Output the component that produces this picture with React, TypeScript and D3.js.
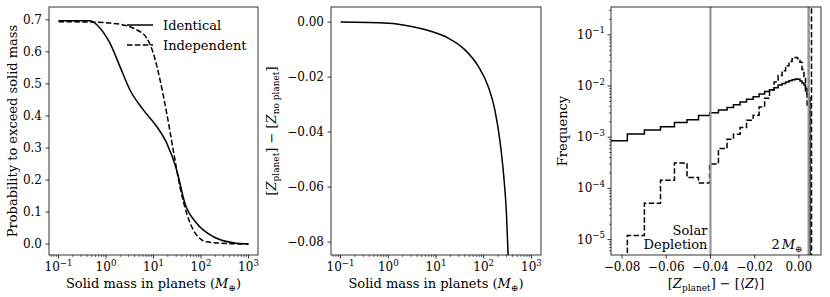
import React from 'react'
import * as d3 from 'd3'

// left panel: probability to exceed a given solid mass
const massIdentical = [0.1, 0.46, 0.75, 1.21, 1.97, 3.2, 6.1, 11.7, 19, 30.8, 46, 81, 182, 478, 1000]
const probIdentical = [0.697, 0.697, 0.674, 0.627, 0.554, 0.481, 0.419, 0.367, 0.315, 0.231, 0.127, 0.065, 0.023, 0.004, 0.0]
const massIndependent = [0.1, 0.46, 1.21, 2.3, 4.4, 7.2, 9.9, 13.7, 19, 26, 36, 50, 69, 132, 478, 1000]
const probIndependent = [0.694, 0.693, 0.69, 0.684, 0.669, 0.643, 0.596, 0.513, 0.408, 0.294, 0.179, 0.096, 0.044, 0.007, 0.001, 0.0]

// middle panel: metallicity shift vs accreted mass
const massShift = [0.1, 1, 3.07, 8.05, 18, 40, 76.5, 124, 171, 217, 263, 299, 324, 335]
const metalShift = [0, -0.0004, -0.0016, -0.0034, -0.0058, -0.01, -0.016, -0.0234, -0.0319, -0.0428, -0.0561, -0.0695, -0.0846, -0.09]

// right panel: histograms
const binEdges = [
  -0.0865, -0.0776, -0.0699, -0.0626, -0.0563, -0.0506, -0.0454, -0.0404, -0.0364, -0.0325, -0.0296,
  -0.0266, -0.0237, -0.0207, -0.018, -0.0155, -0.0133, -0.0112, -0.0094, -0.0076, -0.006, -0.0045,
  -0.0031, -0.0017, -0.0006, 0.0005, 0.0014, 0.0023, 0.003, 0.0037, 0.0044, 0.005, 0.0057,
]
const freqIdentical = [
  8.5e-4, 1.15e-3, 1.38e-3, 1.6e-3, 1.93e-3, 2.2e-3, 2.65e-3, 3.0e-3, 3.4e-3, 3.8e-3, 4.3e-3, 4.9e-3,
  5.5e-3, 6.2e-3, 7.0e-3, 7.8e-3, 8.5e-3, 9.3e-3, 1.05e-2, 1.12e-2, 1.2e-2, 1.27e-2, 1.32e-2, 1.37e-2,
  1.35e-2, 1.25e-2, 1.15e-2, 1.05e-2, 9.0e-3, 7.0e-3, 6.0e-3, 0,
]
const freqIndependent = [
  0, 1.2e-5, 5.1e-5, 1.44e-4, 3.15e-4, 1.63e-4, 1.27e-4, 3.0e-4, 6.0e-4, 9.1e-4, 1.14e-3, 1.55e-3,
  2.15e-3, 2.7e-3, 3.9e-3, 5.8e-3, 8.4e-3, 1.2e-2, 1.6e-2, 2.0e-2, 2.5e-2, 3.0e-2, 3.4e-2, 3.6e-2,
  3.4e-2, 2.9e-2, 2.1e-2, 1.4e-2, 8e-3, 4e-3, 1, 1,
]
const solarDepletion = -0.04
const twoEarthMass = 0.0044

const probTicks = [0, 0.1, 0.2, 0.3, 0.4, 0.5, 0.6, 0.7]
const shiftTicks = [0, -0.02, -0.04, -0.06, -0.08]
const zTicks = [-0.08, -0.06, -0.04, -0.02, 0]
const massDecades = [-1, 0, 1, 2, 3]
const freqDecades = [-5, -4, -3, -2, -1]

const FONT = "'DejaVu Serif', serif"
const TICK_FS = 12
const LABEL_FS = 13
const DASH = '5.5,2.4'

const top = 7
const plotH = 248
const bottom = top + plotH
const p1 = { x: 49, w: 209 }
const p2 = { x: 331, w: 210 }
const p3 = { x: 611, w: 210 }

const minus = (s: string) => s.replace('-', '\u2212')

function Pow10({ k }: { k: number }) {
  return (
    <>
      10
      <tspan fontSize={TICK_FS * 0.72} dy={-5.5}>
        {k < 0 ? '\u2212' + Math.abs(k) : String(k)}
      </tspan>
    </>
  )
}

function logMinor(lo: number, hi: number, kFrom: number, kTo: number) {
  const out: number[] = []
  for (let k = kFrom; k <= kTo; k++) {
    for (let m = 2; m <= 9; m++) {
      const v = m * 10 ** k
      if (v > lo && v < hi) out.push(v)
    }
  }
  return out
}

function MassAxis({ scale }: { scale: d3.ScaleLogarithmic<number, number> }) {
  const [lo, hi] = scale.domain()
  return (
    <g>
      {massDecades.map((k) => (
        <g key={k}>
          <line x1={scale(10 ** k)} x2={scale(10 ** k)} y1={bottom} y2={bottom + 3.5} stroke="#000" strokeWidth={0.8} />
          <text x={scale(10 ** k)} y={bottom + 16} textAnchor="middle" fontSize={TICK_FS}>
            <Pow10 k={k} />
          </text>
        </g>
      ))}
      {logMinor(lo, hi, -2, 3).map((v) => (
        <line key={v} x1={scale(v)} x2={scale(v)} y1={bottom} y2={bottom + 2} stroke="#000" strokeWidth={0.6} />
      ))}
      <text x={(scale.range()[0] + scale.range()[1]) / 2} y={bottom + 33} textAnchor="middle" fontSize={LABEL_FS}>
        Solid mass in planets (<tspan fontStyle="italic">M</tspan>
        <tspan fontSize={9} dy={3}>⊕</tspan>
        <tspan dy={-3}>)</tspan>
      </text>
    </g>
  )
}

export default function App() {
  const xMass1 = d3.scaleLog().domain([10 ** -1.2, 10 ** 3.2]).range([p1.x, p1.x + p1.w])
  const yProb = d3.scaleLinear().domain([-0.034, 0.74]).range([bottom, top])
  const xMass2 = d3.scaleLog().domain([10 ** -1.2, 10 ** 3.2]).range([p2.x, p2.x + p2.w])
  const yShift = d3.scaleLinear().domain([-0.0847, 0.0055]).range([bottom, top])
  const xZ = d3.scaleLinear().domain([-0.085, 0.01]).range([p3.x, p3.x + p3.w])
  const yFreq = d3.scaleLog().domain([5e-6, 0.35]).range([bottom, top])

  const probLine = (xs: number[], ys: number[]) =>
    d3
      .line<number>()
      .x((_, i) => xMass1(xs[i]))
      .y((d) => yProb(d))
      .curve(d3.curveMonotoneX)(ys)

  const shiftPath = d3
    .line<number>()
    .x((_, i) => xMass2(massShift[i]))
    .y((d) => yShift(d))
    .curve(d3.curveMonotoneX)(metalShift)

  const stepPath = (vals: number[]) => {
    const floor = bottom + 10
    const yy = (v: number) => (v > 0 ? yFreq(v) : floor)
    const pts: [number, number][] = [[xZ(binEdges[0]), floor]]
    vals.forEach((v, i) => {
      pts.push([xZ(binEdges[i]), yy(v)], [xZ(binEdges[i + 1]), yy(v)])
    })
    pts.push([xZ(binEdges[binEdges.length - 1]), floor])
    return d3.line()(pts)
  }

  const frame = (p: { x: number; w: number }) => (
    <rect x={p.x} y={top} width={p.w} height={plotH} fill="none" stroke="#000" strokeWidth={0.8} />
  )

  return (
    <svg width={830} height={297} style={{ position: 'absolute', left: 0, top: 0, background: '#fff' }} fontFamily={FONT}>
      <defs>
        {[p1, p2, p3].map((p, i) => (
          <clipPath id={`clip${i}`} key={i}>
            <rect x={p.x} y={top} width={p.w} height={plotH} />
          </clipPath>
        ))}
      </defs>

      {/* left panel */}
      <g clipPath="url(#clip0)" fill="none" stroke="#000" strokeWidth={1.5}>
        <path d={probLine(massIdentical, probIdentical) ?? ''} />
        <path d={probLine(massIndependent, probIndependent) ?? ''} strokeDasharray={DASH} />
      </g>
      {frame(p1)}
      {probTicks.map((t) => (
        <g key={t}>
          <line x1={p1.x - 3.5} x2={p1.x} y1={yProb(t)} y2={yProb(t)} stroke="#000" strokeWidth={0.8} />
          <text x={p1.x - 7} y={yProb(t) + 4} textAnchor="end" fontSize={TICK_FS}>
            {t.toFixed(1)}
          </text>
        </g>
      ))}
      <MassAxis scale={xMass1} />
      <text transform={`translate(17,${top + plotH / 2}) rotate(-90)`} textAnchor="middle" fontSize={LABEL_FS}>
        Probability to exceed solid mass
      </text>
      <g>
        <line x1={127} x2={153} y1={25} y2={25} stroke="#000" strokeWidth={1.5} />
        <text x={163} y={29.5} fontSize={LABEL_FS}>Identical</text>
        <line x1={127} x2={153} y1={45} y2={45} stroke="#000" strokeWidth={1.5} strokeDasharray={DASH} />
        <text x={163} y={49.5} fontSize={LABEL_FS}>Independent</text>
      </g>

      {/* middle panel */}
      <g clipPath="url(#clip1)" fill="none" stroke="#000" strokeWidth={1.5}>
        <path d={shiftPath ?? ''} />
      </g>
      {frame(p2)}
      {shiftTicks.map((t) => (
        <g key={t}>
          <line x1={p2.x - 3.5} x2={p2.x} y1={yShift(t)} y2={yShift(t)} stroke="#000" strokeWidth={0.8} />
          <text x={p2.x - 7} y={yShift(t) + 4} textAnchor="end" fontSize={TICK_FS}>
            {minus(t === 0 ? '0.00' : t.toFixed(2))}
          </text>
        </g>
      ))}
      <MassAxis scale={xMass2} />
      <text transform={`translate(276,${top + plotH / 2}) rotate(-90)`} textAnchor="middle" fontSize={LABEL_FS}>
        [<tspan fontStyle="italic">Z</tspan>
        <tspan fontSize={9} dy={3}>planet</tspan>
        <tspan dy={-3}>] − [</tspan>
        <tspan fontStyle="italic">Z</tspan>
        <tspan fontSize={9} dy={3}>no planet</tspan>
        <tspan dy={-3}>]</tspan>
      </text>

      {/* right panel */}
      <g clipPath="url(#clip2)" fill="none" stroke="#000" strokeWidth={1.5}>
        <path d={stepPath(freqIdentical) ?? ''} />
        <path d={stepPath(freqIndependent) ?? ''} strokeDasharray={DASH} />
        <line x1={xZ(solarDepletion)} x2={xZ(solarDepletion)} y1={top} y2={bottom} stroke="#969696" strokeWidth={2.2} />
        <line x1={xZ(twoEarthMass)} x2={xZ(twoEarthMass)} y1={top} y2={bottom} stroke="#969696" strokeWidth={2.2} />
      </g>
      {frame(p3)}
      <text x={xZ(solarDepletion) - 3} y={235} textAnchor="end" fontSize={LABEL_FS}>Solar</text>
      <text x={xZ(solarDepletion) - 3} y={249} textAnchor="end" fontSize={LABEL_FS}>Depletion</text>
      <text x={xZ(twoEarthMass) - 6} y={249} textAnchor="end" fontSize={LABEL_FS}>
        2<tspan fontStyle="italic" dx={2}>M</tspan>
        <tspan fontSize={9} dy={3}>⊕</tspan>
      </text>
      {zTicks.map((t) => (
        <g key={t}>
          <line x1={xZ(t)} x2={xZ(t)} y1={bottom} y2={bottom + 3.5} stroke="#000" strokeWidth={0.8} />
          <text x={xZ(t)} y={bottom + 16} textAnchor="middle" fontSize={TICK_FS}>
            {minus(t === 0 ? '0.00' : t.toFixed(2))}
          </text>
        </g>
      ))}
      {freqDecades.map((k) => (
        <g key={k}>
          <line x1={p3.x - 3.5} x2={p3.x} y1={yFreq(10 ** k)} y2={yFreq(10 ** k)} stroke="#000" strokeWidth={0.8} />
          <text x={p3.x - 6} y={yFreq(10 ** k) + 4} textAnchor="end" fontSize={TICK_FS}>
            <Pow10 k={k} />
          </text>
        </g>
      ))}
      {logMinor(5e-6, 0.35, -6, -1).map((v) => (
        <line key={v} x1={p3.x - 2} x2={p3.x} y1={yFreq(v)} y2={yFreq(v)} stroke="#000" strokeWidth={0.6} />
      ))}
      <text x={p3.x + p3.w / 2} y={bottom + 33} textAnchor="middle" fontSize={LABEL_FS}>
        [<tspan fontStyle="italic">Z</tspan>
        <tspan fontSize={9} dy={3}>planet</tspan>
        <tspan dy={-3}>] − [⟨</tspan>
        <tspan fontStyle="italic">Z</tspan>⟩]
      </text>
      <text transform={`translate(567,${top + plotH / 2}) rotate(-90)`} textAnchor="middle" fontSize={LABEL_FS}>
        Frequency
      </text>
    </svg>
  )
}
